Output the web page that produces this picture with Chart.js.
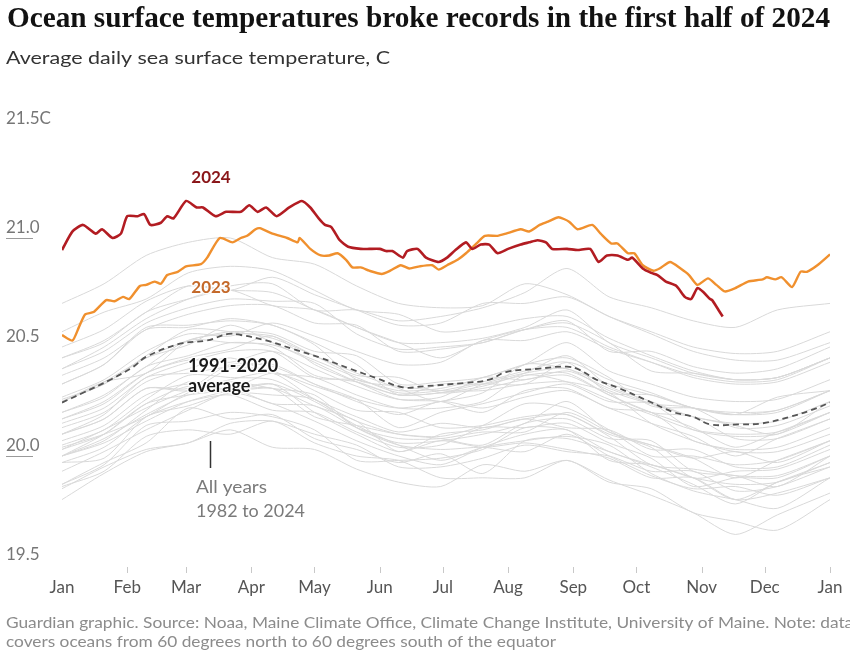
<!DOCTYPE html>
<html>
<head>
<meta charset="utf-8">
<script src="https://cdn.jsdelivr.net/npm/chart.js@4.4.1/dist/chart.umd.min.js"></script>
<style>
  html, body { margin: 0; padding: 0; background: #fff; }
  canvas { display: block; }
</style>
</head>
<body>
<canvas id="sst" width="850" height="656"></canvas>
<script>
// Axis labels
const months = ['Jan', 'Feb', 'Mar', 'Apr', 'May', 'Jun', 'Jul', 'Aug', 'Sep', 'Oct', 'Nov', 'Dec', 'Jan'];
const monthStartDays = [0, 31, 59, 90, 120, 151, 181, 212, 243, 273, 304, 334, 365];
const yTickValues = [21.5, 21.0, 20.5, 20.0, 19.5];
const yTickLabels = ['21.5C', '21.0', '20.5', '20.0', '19.5'];

// 2024 (day of year, temperature)
const days2024 = [0, 5, 10, 16, 19, 24, 28, 31, 36, 39, 42, 47, 50, 53, 59, 64, 67, 73, 78, 85, 89, 93, 97, 102, 108, 114, 118, 122, 125, 128, 132, 136, 142, 146, 151, 154, 157, 162, 164, 169, 173, 179, 183, 187, 192, 195, 199, 203, 207, 212, 218, 222, 226, 230, 233, 240, 245, 251, 255, 259, 264, 269, 271, 276, 280, 283, 287, 292, 296, 299, 302, 305, 308, 309, 312, 314];
const temps2024 = [20.945, 21.03, 21.06, 21.02, 21.04, 21.00, 21.02, 21.10, 21.10, 21.11, 21.06, 21.07, 21.10, 21.09, 21.17, 21.14, 21.14, 21.10, 21.12, 21.12, 21.15, 21.12, 21.14, 21.10, 21.14, 21.17, 21.14, 21.09, 21.06, 21.05, 20.99, 20.96, 20.95, 20.95, 20.95, 20.94, 20.94, 20.91, 20.94, 20.95, 20.91, 20.89, 20.91, 20.945, 20.98, 20.95, 20.97, 20.97, 20.93, 20.95, 20.97, 20.98, 20.99, 20.98, 20.95, 20.95, 20.945, 20.95, 20.89, 20.92, 20.92, 20.90, 20.91, 20.86, 20.84, 20.83, 20.80, 20.78, 20.73, 20.72, 20.77, 20.75, 20.72, 20.715, 20.67, 20.64];

// 2023
const days2023 = [0, 5, 8, 11, 15, 21, 25, 29, 32, 37, 40, 44, 47, 50, 55, 59, 66, 69, 75, 81, 85, 88, 92, 94, 100, 107, 112, 113, 118, 123, 127, 131, 135, 138, 142, 146, 152, 156, 161, 165, 170, 176, 179, 183, 188, 192, 197, 201, 207, 211, 218, 222, 227, 231, 236, 241, 245, 252, 256, 261, 264, 269, 272, 276, 281, 284, 289, 294, 298, 302, 307, 311, 315, 320, 326, 333, 335, 339, 342, 347, 351, 354, 359, 365];
const temps2023 = [20.555, 20.53, 20.59, 20.65, 20.66, 20.715, 20.71, 20.73, 20.72, 20.78, 20.785, 20.80, 20.79, 20.83, 20.845, 20.87, 20.88, 20.91, 21.00, 20.98, 21.00, 21.01, 21.04, 21.045, 21.02, 21.00, 20.98, 21.00, 20.95, 20.92, 20.92, 20.93, 20.90, 20.865, 20.865, 20.85, 20.835, 20.85, 20.875, 20.86, 20.87, 20.875, 20.855, 20.875, 20.90, 20.93, 20.975, 21.01, 21.01, 21.02, 21.04, 21.03, 21.06, 21.075, 21.095, 21.075, 21.04, 21.06, 21.02, 20.975, 20.975, 20.93, 20.93, 20.875, 20.85, 20.86, 20.89, 20.86, 20.83, 20.785, 20.815, 20.785, 20.755, 20.77, 20.80, 20.81, 20.82, 20.81, 20.82, 20.775, 20.845, 20.845, 20.875, 20.925];

// 1991-2020 average
const daysAvg = [0, 10, 23, 34, 40, 56, 69, 79, 85, 97, 110, 123, 137, 150, 162, 172, 191, 203, 211, 226, 240, 246, 254, 265, 278, 291, 300, 308, 322, 333, 346, 356, 365];
const tempsAvg = [20.245, 20.29, 20.35, 20.41, 20.455, 20.515, 20.53, 20.56, 20.555, 20.53, 20.49, 20.45, 20.40, 20.355, 20.315, 20.32, 20.335, 20.35, 20.385, 20.40, 20.41, 20.395, 20.35, 20.31, 20.255, 20.20, 20.18, 20.145, 20.145, 20.15, 20.18, 20.21, 20.245];

// All other years, sampled roughly every 20 days
const grayDays = [0, 20, 40, 60, 80, 100, 120, 140, 160, 180, 200, 220, 240, 260, 280, 300, 320, 340, 365];
const y1982 = [19.87, 19.97, 20.06, 20.22, 20.17, 20.19, 20.08, 20.03, 19.97, 20.01, 19.92, 20.07, 20.08, 20.02, 19.95, 19.87, 19.78, 19.88, 19.95];
const y1983 = [20.00, 20.06, 20.16, 20.25, 20.30, 20.33, 20.20, 20.10, 20.02, 20.07, 20.04, 20.06, 20.03, 19.99, 19.90, 19.90, 19.80, 19.83, 19.90];
const y1984 = [19.86, 19.93, 20.09, 20.12, 20.10, 20.16, 20.06, 20.00, 19.98, 19.90, 19.90, 19.90, 19.98, 19.88, 19.85, 19.74, 19.70, 19.66, 19.80];
const y1985 = [19.80, 19.92, 20.02, 20.06, 20.12, 20.04, 20.03, 19.94, 19.88, 19.86, 19.96, 19.93, 19.98, 19.89, 19.82, 19.74, 19.64, 19.73, 19.83];
const y1986 = [19.85, 19.95, 20.03, 20.06, 20.15, 20.16, 20.10, 20.05, 19.95, 19.95, 19.99, 20.05, 20.02, 20.00, 19.93, 19.93, 19.84, 19.86, 19.95];
const y1987 = [20.00, 20.10, 20.24, 20.28, 20.30, 20.31, 20.18, 20.14, 20.10, 20.09, 20.14, 20.24, 20.22, 20.12, 20.00, 20.00, 19.96, 19.98, 20.07];
const y1988 = [20.07, 20.14, 20.28, 20.33, 20.30, 20.33, 20.25, 20.14, 20.05, 19.98, 20.04, 20.07, 20.09, 20.05, 19.92, 19.84, 19.80, 19.76, 19.90];
const y1989 = [19.87, 19.96, 20.14, 20.16, 20.20, 20.18, 20.12, 19.98, 19.98, 19.99, 20.03, 20.13, 20.12, 20.02, 19.96, 19.90, 19.80, 19.88, 19.97];
const y1990 = [20.00, 20.07, 20.21, 20.34, 20.30, 20.31, 20.23, 20.16, 20.02, 20.10, 20.12, 20.17, 20.13, 20.12, 20.03, 20.03, 19.95, 19.95, 20.05];
const y1991 = [20.03, 20.12, 20.22, 20.30, 20.35, 20.38, 20.26, 20.16, 20.10, 20.08, 20.05, 20.15, 20.17, 20.08, 20.07, 19.93, 19.91, 19.86, 20.00];
const y1992 = [20.04, 20.10, 20.18, 20.29, 20.34, 20.31, 20.28, 20.13, 20.05, 20.03, 20.04, 20.02, 20.10, 20.00, 19.91, 19.85, 19.86, 19.82, 19.90];
const y1993 = [19.93, 20.02, 20.12, 20.21, 20.29, 20.24, 20.16, 20.07, 20.00, 19.96, 20.04, 20.10, 20.12, 19.98, 19.96, 19.90, 19.87, 19.88, 19.97];
const y1994 = [19.97, 19.99, 20.18, 20.23, 20.29, 20.28, 20.26, 20.13, 20.06, 20.07, 20.10, 20.15, 20.25, 20.11, 20.05, 19.99, 19.90, 19.98, 20.07];
const y1995 = [20.10, 20.17, 20.31, 20.30, 20.40, 20.39, 20.30, 20.21, 20.20, 20.13, 20.14, 20.18, 20.19, 20.09, 19.96, 19.94, 19.91, 19.91, 20.00];
const y1996 = [19.97, 20.04, 20.18, 20.25, 20.28, 20.21, 20.20, 20.11, 20.04, 20.05, 20.13, 20.13, 20.15, 20.06, 19.99, 19.86, 19.90, 19.90, 20.00];
const y1997 = [20.03, 20.10, 20.24, 20.32, 20.31, 20.38, 20.32, 20.26, 20.22, 20.25, 20.29, 20.42, 20.40, 20.33, 20.28, 20.22, 20.19, 20.27, 20.30];
const y1998 = [20.33, 20.42, 20.59, 20.60, 20.62, 20.60, 20.51, 20.35, 20.32, 20.30, 20.30, 20.33, 20.34, 20.29, 20.15, 20.07, 20.02, 20.02, 20.10];
const y1999 = [20.05, 20.12, 20.26, 20.37, 20.36, 20.35, 20.26, 20.18, 20.11, 20.15, 20.13, 20.17, 20.19, 20.10, 20.04, 19.90, 19.93, 19.94, 20.03];
const y2000 = [20.00, 20.08, 20.19, 20.28, 20.31, 20.24, 20.23, 20.13, 20.08, 20.08, 20.11, 20.11, 20.20, 20.11, 20.05, 19.99, 20.02, 19.97, 20.07];
const y2001 = [20.10, 20.19, 20.36, 20.38, 20.41, 20.42, 20.33, 20.26, 20.13, 20.20, 20.24, 20.29, 20.33, 20.25, 20.24, 20.12, 20.09, 20.10, 20.20];
const y2002 = [20.17, 20.25, 20.38, 20.44, 20.43, 20.48, 20.40, 20.32, 20.26, 20.27, 20.36, 20.35, 20.39, 20.31, 20.24, 20.18, 20.14, 20.10, 20.25];
const y2003 = [20.26, 20.33, 20.46, 20.58, 20.57, 20.54, 20.46, 20.38, 20.31, 20.25, 20.33, 20.38, 20.40, 20.30, 20.24, 20.22, 20.13, 20.14, 20.23];
const y2004 = [20.20, 20.27, 20.41, 20.46, 20.52, 20.50, 20.37, 20.34, 20.28, 20.29, 20.32, 20.38, 20.46, 20.32, 20.25, 20.18, 20.15, 20.16, 20.25];
const y2005 = [20.25, 20.34, 20.38, 20.53, 20.56, 20.55, 20.46, 20.37, 20.36, 20.29, 20.31, 20.35, 20.37, 20.28, 20.20, 20.13, 20.04, 20.11, 20.20];
const y2006 = [20.17, 20.24, 20.38, 20.45, 20.49, 20.55, 20.42, 20.34, 20.28, 20.29, 20.33, 20.33, 20.43, 20.35, 20.29, 20.22, 20.20, 20.21, 20.30];
const y2007 = [20.25, 20.34, 20.45, 20.51, 20.60, 20.52, 20.43, 20.34, 20.26, 20.25, 20.20, 20.30, 20.31, 20.22, 20.20, 20.07, 20.03, 20.04, 20.13];
const y2008 = [20.10, 20.17, 20.31, 20.31, 20.42, 20.41, 20.33, 20.25, 20.19, 20.25, 20.22, 20.27, 20.30, 20.22, 20.15, 20.09, 20.00, 20.08, 20.17];
const y2009 = [20.15, 20.22, 20.36, 20.43, 20.48, 20.48, 20.36, 20.35, 20.30, 20.31, 20.36, 20.42, 20.52, 20.39, 20.33, 20.27, 20.25, 20.26, 20.35];
const y2010 = [20.33, 20.42, 20.58, 20.59, 20.63, 20.60, 20.52, 20.42, 20.28, 20.33, 20.33, 20.37, 20.38, 20.28, 20.20, 20.18, 20.08, 20.08, 20.17];
const y2011 = [20.13, 20.20, 20.34, 20.40, 20.45, 20.38, 20.36, 20.28, 20.22, 20.22, 20.25, 20.37, 20.34, 20.26, 20.19, 20.12, 20.10, 20.11, 20.20];
const y2012 = [20.20, 20.28, 20.41, 20.53, 20.52, 20.51, 20.44, 20.36, 20.29, 20.30, 20.34, 20.39, 20.43, 20.29, 20.28, 20.22, 20.19, 20.21, 20.30];
const y2013 = [20.25, 20.33, 20.45, 20.53, 20.57, 20.56, 20.48, 20.46, 20.33, 20.34, 20.36, 20.42, 20.45, 20.36, 20.23, 20.22, 20.19, 20.20, 20.30];
const y2014 = [20.27, 20.35, 20.48, 20.56, 20.55, 20.61, 20.55, 20.48, 20.42, 20.43, 20.53, 20.53, 20.57, 20.49, 20.43, 20.37, 20.34, 20.35, 20.45];
const y2015 = [20.40, 20.50, 20.63, 20.72, 20.78, 20.79, 20.67, 20.67, 20.62, 20.64, 20.68, 20.75, 20.86, 20.73, 20.68, 20.62, 20.59, 20.67, 20.70];
const y2016 = [20.70, 20.79, 20.92, 20.98, 21.00, 20.91, 20.88, 20.78, 20.70, 20.68, 20.69, 20.79, 20.74, 20.64, 20.56, 20.48, 20.44, 20.44, 20.52];
const y2017 = [20.45, 20.53, 20.66, 20.78, 20.76, 20.75, 20.67, 20.59, 20.52, 20.45, 20.53, 20.58, 20.59, 20.50, 20.43, 20.36, 20.33, 20.34, 20.43];
const y2018 = [20.37, 20.45, 20.58, 20.65, 20.69, 20.69, 20.61, 20.60, 20.48, 20.49, 20.52, 20.58, 20.62, 20.48, 20.48, 20.41, 20.38, 20.40, 20.50];
const y2019 = [20.50, 20.58, 20.71, 20.78, 20.76, 20.82, 20.74, 20.67, 20.60, 20.61, 20.70, 20.70, 20.73, 20.64, 20.57, 20.50, 20.47, 20.48, 20.57];
const y2020 = [20.57, 20.66, 20.72, 20.84, 20.87, 20.85, 20.76, 20.67, 20.65, 20.57, 20.59, 20.63, 20.64, 20.54, 20.46, 20.39, 20.35, 20.36, 20.45];
const y2021 = [20.40, 20.48, 20.61, 20.68, 20.72, 20.71, 20.70, 20.56, 20.49, 20.50, 20.52, 20.58, 20.61, 20.52, 20.39, 20.38, 20.35, 20.36, 20.45];
const y2022 = [20.45, 20.52, 20.66, 20.72, 20.76, 20.69, 20.67, 20.59, 20.52, 20.52, 20.54, 20.59, 20.67, 20.52, 20.45, 20.38, 20.35, 20.36, 20.45];
const grayYears = [y1982, y1983, y1984, y1985, y1986, y1987, y1988, y1989, y1990, y1991, y1992,
  y1993, y1994, y1995, y1996, y1997, y1998, y1999, y2000, y2001, y2002, y2003, y2004, y2005,
  y2006, y2007, y2008, y2009, y2010, y2011, y2012, y2013, y2014, y2015, y2016, y2017, y2018,
  y2019, y2020, y2021, y2022];

const SANS = 'Lato, "Open Sans", sans-serif';

function points(days, temps) {
  return temps.map((t, i) => ({ x: days[i], y: t }));
}

// draw text squeezed/stretched to a given width
function fitText(ctx, text, x, y, width) {
  const w = ctx.measureText(text).width;
  const s = width / w;
  ctx.save();
  ctx.translate(x, y);
  ctx.scale(s, 1);
  ctx.fillText(text, 0, 0);
  ctx.restore();
  return s;
}

function haloText(ctx, text, x, y) {
  ctx.save();
  ctx.strokeStyle = 'rgba(255,255,255,0.85)';
  ctx.lineWidth = 3;
  ctx.lineJoin = 'round';
  ctx.strokeText(text, x, y);
  ctx.restore();
  ctx.fillText(text, x, y);
}

const datasets = [
  { data: points(days2024, temps2024), borderColor: '#b21c22', borderWidth: 2.6, order: 0, tension: 0.2 },
  { data: points(days2023, temps2023), borderColor: '#f0902e', borderWidth: 2.4, order: 1, tension: 0.2 },
  { data: points(daysAvg, tempsAvg), borderColor: '#555555', borderWidth: 1.8, borderDash: [6, 4], order: 2, tension: 0.4 }
];
grayYears.forEach(vals => {
  datasets.push({ data: points(grayDays, vals), borderColor: '#d9d9d9', borderWidth: 1, order: 3, tension: 0.25 });
});

const decorations = {
  id: 'decorations',
  beforeDatasetsDraw(chart) {
    const ctx = chart.ctx;
    const yScale = chart.scales.y;
    ctx.save();
    ctx.strokeStyle = '#9a9a9a';
    ctx.lineWidth = 1;
    [21.0, 20.0].forEach(v => {
      const py = Math.round(yScale.getPixelForValue(v)) + 0.5;
      ctx.beginPath();
      ctx.moveTo(6, py);
      ctx.lineTo(33, py);
      ctx.stroke();
    });
    ctx.restore();
  },
  afterDatasetsDraw(chart) {
    const ctx = chart.ctx;
    const x = chart.scales.x;
    const y = chart.scales.y;
    ctx.save();
    ctx.textBaseline = 'alphabetic';
    ctx.textAlign = 'left';

    // title + subtitle
    ctx.fillStyle = '#121212';
    ctx.font = 'bold 30px "Liberation Serif", "DejaVu Serif", serif';
    fitText(ctx, 'Ocean surface temperatures broke records in the first half of 2024', 7, 27, 823);
    ctx.fillStyle = '#333333';
    ctx.font = '18px ' + SANS;
    fitText(ctx, 'Average daily sea surface temperature, C', 6, 64, 384);

    // y labels
    ctx.fillStyle = '#767676';
    ctx.font = '17px ' + SANS;
    yTickValues.forEach((v, i) => {
      ctx.fillText(yTickLabels[i], 6, y.getPixelForValue(v) - 5);
    });

    // x ticks and month labels
    ctx.strokeStyle = '#c8c8c8';
    ctx.lineWidth = 1;
    ctx.fillStyle = '#555555';
    ctx.font = '17px ' + SANS;
    ctx.textAlign = 'center';
    months.forEach((m, i) => {
      const px = x.getPixelForValue(monthStartDays[i]);
      if (i > 0) {
        ctx.beginPath();
        ctx.moveTo(Math.round(px) + 0.5, 567);
        ctx.lineTo(Math.round(px) + 0.5, 573);
        ctx.stroke();
      }
      ctx.fillText(m, px, 593);
    });

    // series labels
    ctx.font = 'bold 17px ' + SANS;
    ctx.fillStyle = '#8a1619';
    haloText(ctx, '2024', 211, 183);
    ctx.fillStyle = '#c4692a';
    haloText(ctx, '2023', 211, 293);
    ctx.textAlign = 'left';
    ctx.fillStyle = '#1a1a1a';
    ctx.font = 'bold 18px ' + SANS;
    haloText(ctx, '1991-2020', 188, 372);
    haloText(ctx, 'average', 188, 392);

    // annotation for gray lines
    ctx.strokeStyle = '#333333';
    ctx.lineWidth = 1.5;
    ctx.beginPath();
    ctx.moveTo(210.5, 441);
    ctx.lineTo(210.5, 468);
    ctx.stroke();
    ctx.fillStyle = '#7a7a7a';
    ctx.font = '17px ' + SANS;
    fitText(ctx, 'All years', 196, 493, 71);
    fitText(ctx, '1982 to 2024', 196, 517, 109);

    // footnote
    ctx.fillStyle = '#8c8c8c';
    ctx.font = '15px ' + SANS;
    const note2 = 'covers oceans from 60 degrees north to 60 degrees south of the equator';
    const s = 550 / ctx.measureText(note2).width;
    ctx.save();
    ctx.translate(6, 628);
    ctx.scale(s, 1);
    ctx.fillText('Guardian graphic. Source: Noaa, Maine Climate Office, Climate Change Institute, University of Maine. Note: data', 0, 0);
    ctx.restore();
    fitText(ctx, note2, 6, 647, 550);
    ctx.restore();
  }
};

new Chart(document.getElementById('sst'), {
  type: 'line',
  data: { datasets: datasets },
  options: {
    responsive: false,
    animation: false,
    devicePixelRatio: 1,
    layout: { padding: { left: 62, right: 20, top: 129, bottom: 91 } },
    elements: { point: { radius: 0 } },
    plugins: { legend: { display: false }, tooltip: { enabled: false } },
    scales: {
      x: { type: 'linear', min: 0, max: 365, display: false },
      y: { type: 'linear', min: 19.5, max: 21.5, display: false }
    }
  },
  plugins: [decorations]
});
</script>
</body>
</html>
